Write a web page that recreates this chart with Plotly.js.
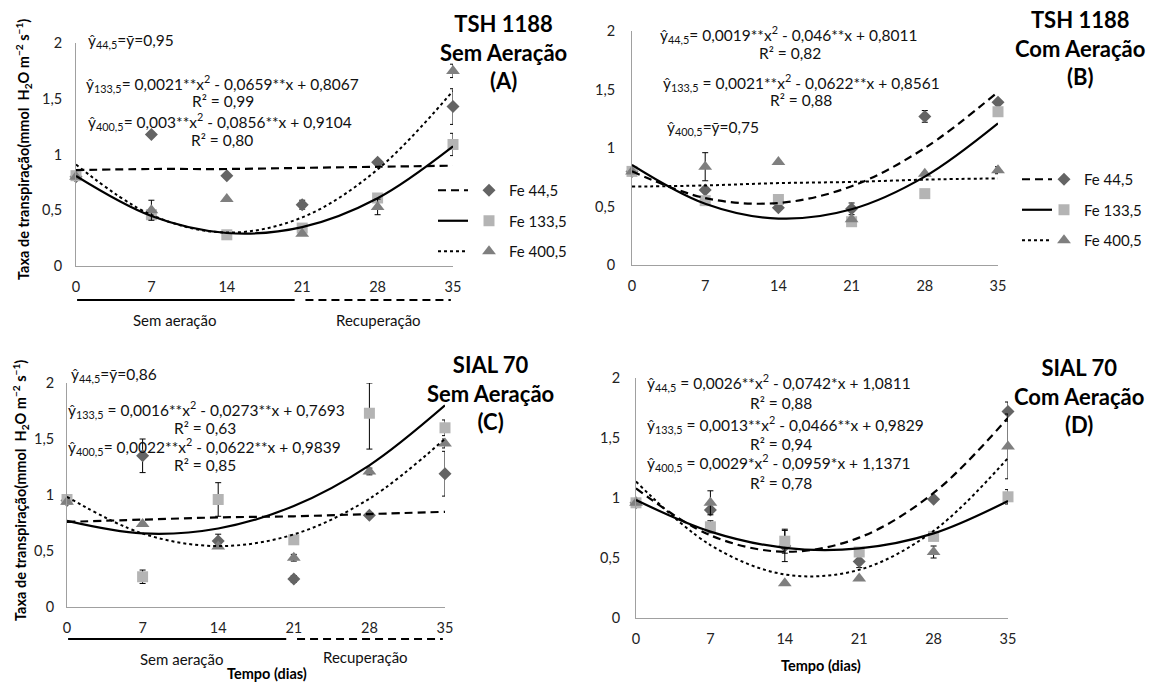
<!DOCTYPE html>
<html><head><meta charset="utf-8">
<script src="https://cdn.plot.ly/plotly-3.0.1.min.js"></script>
<style>html,body{margin:0;padding:0;background:#fff}</style>
</head><body><div id="chart" style="width:1153px;height:682px"></div>
<script>
// ---------- DATA ----------
const days = [0, 7, 14, 21, 28, 35];
const seriesNames = ['Fe 44,5', 'Fe 133,5', 'Fe 400,5'];

// Panel A – TSH 1188 Sem Aeração
const A_fe44 = [0.80, 1.18, 0.81, 0.55, 0.93, 1.43];
const A_fe44_err = [0, 0.02, 0.02, 0.04, 0.02, 0.16];
const A_fe133 = [0.81, 0.46, 0.28, 0.34, 0.61, 1.09];
const A_fe133_err = [0, 0, 0, 0, 0, 0.10];
const A_fe400 = [0.80, 0.50, 0.60, 0.29, 0.53, 1.75];
const A_fe400_err = [0, 0.09, 0, 0, 0.07, 0.06];
const A_fit44 = [0.86, 0.87, 0.87, 0.88, 0.89, 0.90];
const A_fit133 = [0.807, 0.448, 0.296, 0.349, 0.608, 1.073];
const A_fit400 = [0.910, 0.458, 0.300, 0.436, 0.866, 1.570];

// Panel B – TSH 1188 Com Aeração
const B_fe44 = [0.80, 0.64, 0.49, 0.48, 1.27, 1.39];
const B_fe44_err = [0, 0, 0, 0.05, 0.05, 0.02];
const B_fe133 = [0.80, 0.55, 0.56, 0.37, 0.61, 1.31];
const B_fe133_err = [0, 0, 0, 0, 0, 0.03];
const B_fe400 = [0.80, 0.84, 0.88, 0.39, 0.78, 0.81];
const B_fe400_err = [0, 0.12, 0, 0, 0, 0.03];
const B_fit44 = [0.801, 0.572, 0.530, 0.673, 1.000, 1.480];
const B_fit133 = [0.856, 0.524, 0.397, 0.476, 0.755, 1.210];
const B_fit400 = [0.67, 0.68, 0.70, 0.71, 0.73, 0.74];

// Panel C – SIAL 70 Sem Aeração
const C_fe44 = [0.95, 1.35, 0.59, 0.25, 0.82, 1.19];
const C_fe44_err = [0, 0.15, 0.06, 0.03, 0, 0.20];
const C_fe133 = [0.96, 0.27, 0.96, 0.60, 1.73, 1.60];
const C_fe133_err = [0, 0.06, 0.15, 0, 0.27, 0.07];
const C_fe133_errMinus = [0, 0.06, 0.15, 0, 0.32, 0.07];
const C_fe400 = [0.94, 0.74, 0.54, 0.44, 1.21, 1.46];
const C_fe400_err = [0, 0, 0, 0.03, 0.03, 0.04];
const C_fit44 = [0.76, 0.78, 0.80, 0.81, 0.83, 0.85];
const C_fit133 = [0.769, 0.657, 0.701, 0.902, 1.265, 1.800];
const C_fit400 = [0.984, 0.656, 0.544, 0.648, 0.967, 1.502];

// Panel D – SIAL 70 Com Aeração
const D_fe44 = [0.96, 0.90, 0.60, 0.47, 0.99, 1.72];
const D_fe44_err = [0, 0, 0.13, 0.05, 0, 0.08];
const D_fe133 = [0.96, 0.76, 0.64, 0.55, 0.68, 1.01];
const D_fe133_err = [0, 0.05, 0.10, 0, 0, 0.06];
const D_fe400 = [0.96, 0.96, 0.29, 0.33, 0.55, 1.43];
const D_fe400_err = [0, 0.10, 0, 0, 0.05, 0.27];
const D_fit44 = [1.081, 0.689, 0.552, 0.670, 1.042, 1.669];
const D_fit133 = [0.983, 0.720, 0.585, 0.580, 0.705, 0.975];
const D_fit400 = [1.137, 0.608, 0.363, 0.402, 0.726, 1.333];

const yTickVals = [0, 0.5, 1, 1.5, 2];
const yTickText = ['0', '0,5', '1', '1,5', '2'];
const xTickText = ['0', '7', '14', '21', '28', '35'];

const panelTitles = ['TSH 1188<br>Sem Aeração<br>(A)', 'TSH 1188<br>Com Aeração<br>(B)',
                     'SIAL 70<br>Sem Aeração<br>(C)', 'SIAL 70<br>Com Aeração<br>(D)'];
const periodLabels = ['Sem aeração', 'Recuperação'];
const periodStart = [0, 21];
const periodEnd = [20.3, 35];
const yTitle = 'Taxa de transpiração(mmol  H<sub>2</sub>O m<sup>−2</sup> s<sup>−1</sup>)';
const xTitle = 'Tempo (dias)';

const eqA = ['ŷ<sub>44,5</sub>=ȳ=0,95', 'ŷ<sub>133,5</sub>= 0,0021**x<sup>2</sup> - 0,0659**x + 0,8067', 'R² = 0,99',
             'ŷ<sub>400,5</sub>= 0,003**x<sup>2</sup> - 0,0856**x + 0,9104', 'R² = 0,80'];
const eqB = ['ŷ<sub>44,5</sub>= 0,0019**x<sup>2</sup> - 0,046**x + 0,8011', 'R² = 0,82',
             'ŷ<sub>133,5</sub> = 0,0021**x<sup>2</sup> - 0,0622**x + 0,8561', 'R² = 0,88', 'ŷ<sub>400,5</sub>=ȳ=0,75'];
const eqC = ['ŷ<sub>44,5</sub>=ȳ=0,86', 'ŷ<sub>133,5</sub> = 0,0016**x<sup>2</sup> - 0,0273**x + 0,7693', 'R² = 0,63',
             'ŷ<sub>400,5</sub>= 0,0022**x<sup>2</sup> - 0,0622**x + 0,9839', 'R² = 0,85'];
const eqD = ['ŷ<sub>44,5</sub> = 0,0026**x<sup>2</sup> - 0,0742*x + 1,0811', 'R² = 0,88',
             'ŷ<sub>133,5</sub> = 0,0013**x<sup>2</sup> - 0,0466**x + 0,9829', 'R² = 0,94',
             'ŷ<sub>400,5</sub> = 0,0029*x<sup>2</sup> - 0,0959*x + 1,1371', 'R² = 0,78'];

// ---------- STYLE ----------
const FONT = 'Lato, "Open Sans", sans-serif';
const W = 1153, H = 682;
const markerStyles = [
  {symbol: 'diamond', size: 10, color: '#646464'},
  {symbol: 'square', size: 11, color: '#b4b4b4'},
  {symbol: 'triangle-up', size: 12, color: '#7f7f7f'}
];
const lineStyles = [
  {color: '#000', width: 2.2, dash: '8px,5px'},
  {color: '#000', width: 2.2, dash: 'solid'},
  {color: '#000', width: 2, dash: 'dot'}
];

// pixel geometry of each panel: [x at 0, x at 35, y at 0, y at 2]
const geom = {
  A: [76, 453, 266, 43],
  B: [632, 998, 265, 31],
  C: [67, 445, 607, 383],
  D: [636, 1008, 618, 378]
};

const traces = [];
function addPanel(key, ax, vals, errs, errsMinus, fits, legLines, legMarks) {
  const xa = 'x' + ax, ya = 'y' + ax;
  for (let i = 0; i < 3; i++) {
    const ey = {type: 'data', array: errs[i], visible: true, color: '#000', thickness: 1, width: 3};
    if (errsMinus[i]) { ey.symmetric = false; ey.arrayminus = errsMinus[i]; }
    traces.push({
      type: 'scatter', mode: 'markers', x: days, y: vals[i], xaxis: xa, yaxis: ya,
      name: seriesNames[i], cliponaxis: false,
      marker: {symbol: markerStyles[i].symbol, size: markerStyles[i].size, color: markerStyles[i].color, line: {width: 0}},
      error_y: ey,
      showlegend: !!legMarks, legend: legMarks || 'legend', legendgroup: key + 'm' + i
    });
  }
  for (let i = 0; i < 3; i++) {
    traces.push({
      type: 'scatter', mode: 'lines', x: days, y: fits[i], xaxis: xa, yaxis: ya,
      name: '\u00a0', cliponaxis: false,
      line: {color: lineStyles[i].color, width: lineStyles[i].width, dash: lineStyles[i].dash, shape: 'spline', smoothing: 1},
      showlegend: !!legLines, legend: legLines || 'legend', legendgroup: key + 'l' + i
    });
  }
}
addPanel('A', '', [A_fe44, A_fe133, A_fe400], [A_fe44_err, A_fe133_err, A_fe400_err], [null, null, null],
         [A_fit44, A_fit133, A_fit400], 'legend', 'legend2');
addPanel('B', '2', [B_fe44, B_fe133, B_fe400], [B_fe44_err, B_fe133_err, B_fe400_err], [null, null, null],
         [B_fit44, B_fit133, B_fit400], 'legend3', 'legend4');
addPanel('C', '3', [C_fe44, C_fe133, C_fe400], [C_fe44_err, C_fe133_err, C_fe400_err], [null, C_fe133_errMinus, null],
         [C_fit44, C_fit133, C_fit400], null, null);
addPanel('D', '4', [D_fe44, D_fe133, D_fe400], [D_fe44_err, D_fe133_err, D_fe400_err], [null, null, null],
         [D_fit44, D_fit133, D_fit400], null, null);

const TICKF = {family: FONT, size: 14.5, color: '#222'};
function xAxis(g, anchor) {
  return {domain: [g[0] / W, g[1] / W], range: [0, 35], anchor: anchor, tickvals: days, ticktext: xTickText,
    showline: true, linecolor: '#a0a0a0', linewidth: 1, showgrid: false, zeroline: false,
    ticks: 'outside', ticklen: 8, tickcolor: 'rgba(0,0,0,0)', tickfont: TICKF, fixedrange: true};
}
function yAxis(g, anchor, standoff) {
  return {domain: [1 - g[2] / H, 1 - g[3] / H], range: [0, 2], anchor: anchor, tickvals: yTickVals, ticktext: yTickText,
    showline: true, linecolor: '#a0a0a0', linewidth: 1, showgrid: false, zeroline: false,
    ticks: 'outside', ticklen: standoff, tickcolor: 'rgba(0,0,0,0)', tickfont: TICKF, fixedrange: true};
}

const annotations = [];
const EQF = {family: FONT, size: 15.5, color: '#111'};
function ann(text, xpx, ypx, opts) {
  annotations.push(Object.assign({text: text, xref: 'paper', yref: 'paper', x: xpx / W, y: 1 - ypx / H,
    xanchor: 'center', yanchor: 'middle', showarrow: false, font: EQF}, opts || {}));
}
// equations (centred on the reference positions)
ann(eqA[0], 131, 41); ann(eqA[1], 222, 83); ann(eqA[2], 223, 101);
ann(eqA[3], 220, 121); ann(eqA[4], 222, 140);
ann(eqB[0], 788, 35); ann(eqB[1], 790, 53);
ann(eqB[2], 801, 82); ann(eqB[3], 801, 100); ann(eqB[4], 713, 128);
ann(eqC[0], 114, 375); ann(eqC[1], 206, 409); ann(eqC[2], 205, 428);
ann(eqC[3], 205, 446); ann(eqC[4], 205, 465);
ann(eqD[0], 779, 383); ann(eqD[1], 781, 403);
ann(eqD[2], 785, 424); ann(eqD[3], 781, 444);
ann(eqD[4], 779, 463); ann(eqD[5], 781, 483);
// panel titles
const TF = {family: FONT, size: 22, color: '#000', weight: 'bold'};
ann('<b>' + panelTitles[0] + '</b>', 503, 52, {font: TF});
ann('<b>' + panelTitles[1] + '</b>', 1080, 48, {font: TF});
ann('<b>' + panelTitles[2] + '</b>', 490, 393, {font: TF});
ann('<b>' + panelTitles[3] + '</b>', 1079, 396, {font: TF});
// y titles
const YF = {family: FONT, size: 14.5, color: '#000'};
ann('<b>' + yTitle + '</b>', 23, 150, {textangle: -90, font: YF});
ann('<b>' + yTitle + '</b>', 20, 491, {textangle: -90, font: YF});
// x titles
const XF = {family: FONT, size: 14.5, color: '#000'};
ann('<b>' + xTitle + '</b>', 267, 673, {font: XF});
ann('<b>' + xTitle + '</b>', 821, 665, {font: XF});
// period labels (A and C)
const PF = {family: FONT, size: 15, color: '#111'};
ann(periodLabels[0], 175, 320, {font: PF});
ann(periodLabels[1], 378, 320, {font: PF});
ann(periodLabels[0], 182, 659, {font: PF});
ann(periodLabels[1], 365, 657, {font: PF});

// period bars drawn on x data coordinates
const shapes = [];
[['x', 300], ['x3', 639]].forEach(([xr, ypx]) => {
  for (let i = 0; i < 2; i++) {
    shapes.push({type: 'line', xref: xr, yref: 'paper', x0: periodStart[i] + (i ? 0.3 : 0.1), x1: periodEnd[i] - (i ? 0.2 : 0),
      y0: 1 - ypx / H, y1: 1 - ypx / H,
      line: {color: '#000', width: 2, dash: i ? '8px,5px' : 'solid'}});
  }
});

function legendAt(xpx, ypx) {
  return {x: xpx / W, y: 1 - ypx / H, xanchor: 'left', yanchor: 'top', bgcolor: 'rgba(0,0,0,0)', borderwidth: 0,
    font: {family: FONT, size: 15, color: '#111'}, tracegroupgap: 8, itemwidth: 30, itemclick: false, itemdoubleclick: false};
}

const layout = {
  width: W, height: H, margin: {l: 0, r: 0, t: 0, b: 0}, autosize: false,
  paper_bgcolor: '#fff', plot_bgcolor: 'rgba(0,0,0,0)', font: {family: FONT},
  xaxis: xAxis(geom.A, 'y'), yaxis: yAxis(geom.A, 'x', 10),
  xaxis2: xAxis(geom.B, 'y2'), yaxis2: yAxis(geom.B, 'x2', 13),
  xaxis3: xAxis(geom.C, 'y3'), yaxis3: yAxis(geom.C, 'x3', 9),
  xaxis4: xAxis(geom.D, 'y4'), yaxis4: yAxis(geom.D, 'x4', 12),
  legend: legendAt(433, 174), legend2: legendAt(469, 174),
  legend3: legendAt(1017, 163), legend4: legendAt(1044, 163),
  annotations: annotations, shapes: shapes
};

Plotly.newPlot('chart', traces, layout, {displayModeBar: false, staticPlot: true});
</script></body></html>
